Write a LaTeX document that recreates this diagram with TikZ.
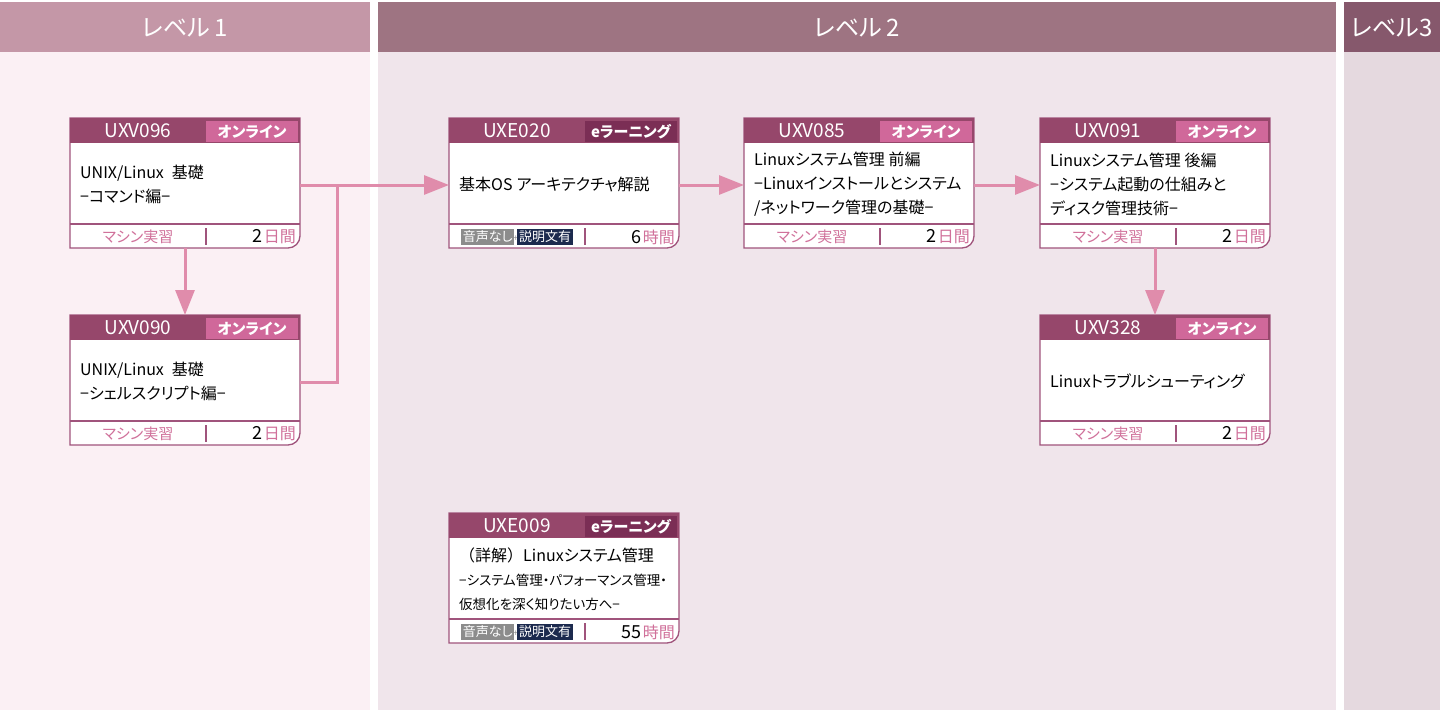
\documentclass[tikz,border=0pt]{standalone}
\usepackage{fontspec}
\setmainfont{Noto Sans CJK JP}[RawFeature=+palt]
\usetikzlibrary{arrows.meta}
\definecolor{lvA}{HTML}{C497A7}
\definecolor{lvAbg}{HTML}{FBF0F4}
\definecolor{lvB}{HTML}{9E7482}
\definecolor{lvBbg}{HTML}{F0E5EB}
\definecolor{lvC}{HTML}{86586C}
\definecolor{lvCbg}{HTML}{E5D9DF}
\definecolor{cardhdr}{HTML}{96476B}
\definecolor{cardborder}{HTML}{A0547C}
\definecolor{tagon}{HTML}{D0689A}
\definecolor{tagel}{HTML}{7B2E55}
\definecolor{pinktxt}{HTML}{D0709A}
\definecolor{arrowc}{HTML}{E08CAB}
\definecolor{badgegray}{HTML}{8C8C8C}
\definecolor{badgenavy}{HTML}{1C2A4E}
\tikzset{
  cardnode/.style={minimum width=230pt,minimum height=130pt,inner sep=0pt,outer sep=0pt},
  codetxt/.style={text=white,font=\fontsize{19}{19}\selectfont,inner sep=0pt},
  tagtxt/.style={text=white,font=\fontsize{15}{15}\selectfont\bfseries,inner sep=0pt},
  bodytxt/.style={text=black,font=\fontsize{16}{24}\selectfont,align=left,inner sep=0pt},
  foottxt/.style={inner sep=0pt},
  lvhdr/.style={text=white,font=\fontsize{24}{24}\selectfont},
  conn/.style={draw=arrowc,line width=3pt},
  arr/.style={conn,-{Triangle[length=25pt,width=19pt]}},
}
\newcommand{\mcLeft}{\textcolor{pinktxt}{\fontsize{15}{15}\selectfont マシン実習}}
\newcommand{\elLeft}{{\setlength{\fboxsep}{1.8pt}\fontsize{13}{13}\selectfont\colorbox{badgegray}{\textcolor{white}{音声なし}}\kern-1pt{\fontsize{9}{9}\selectfont\textcolor{badgegray}{+}}\kern-1pt\colorbox{badgenavy}{\textcolor{white}{説明文有}}}}
\newcommand{\durDays}[1]{{\fontsize{18}{18}\selectfont #1}\,\textcolor{pinktxt}{\fontsize{16}{16}\selectfont 日間}}
\newcommand{\durHours}[1]{{\fontsize{18}{18}\selectfont #1}\,\textcolor{pinktxt}{\fontsize{16}{16}\selectfont 時間}}
% #1 name #2 x #3 y #4 code #5 tag colour #6 tag text #7 body #8 footer left #9 duration
\newcommand{\crsCard}[9]{%
  \node[cardnode,anchor=north west] (#1) at (#2,#3) {};
  \path[fill=white,draw=cardborder,line width=1.3pt] (#2,#3) -- (#2+230,#3) -- (#2+230,#3+118)
     .. controls (#2+230,#3+124.6) and (#2+224.6,#3+130) .. (#2+218,#3+130) -- (#2,#3+130) -- cycle;
  \fill[cardhdr] (#2,#3) rectangle (#2+230,#3+25);
  \fill[#5] (#2+136,#3+3) rectangle (#2+228,#3+24);
  \node[codetxt] at (#2+68,#3+13) {#4};
  \node[tagtxt] at (#2+182,#3+13.5) {#6};
  \node[bodytxt,anchor=west] at (#2+10,#3+66) {#7};
  \draw[cardborder,line width=1.3pt] (#2,#3+106) -- (#2+230,#3+106);
  \draw[cardborder,line width=1.3pt] (#2+136,#3+110) -- (#2+136,#3+127);
  \node[foottxt] at (#2+68,#3+119) {#8};
  \node[foottxt,anchor=east] at (#2+226,#3+119) {#9};
}
\begin{document}
\begin{tikzpicture}[x=1pt,y=-1pt]
\useasboundingbox (0,0) rectangle (1440,710);
\fill[white] (0,0) rectangle (1440,710);
% level columns
\fill[lvAbg] (0,52) rectangle (370,710);
\fill[lvBbg] (378,52) rectangle (1336,710);
\fill[lvCbg] (1344,52) rectangle (1440,710);
\fill[lvA] (0,2) rectangle (370,52);
\fill[lvB] (378,2) rectangle (1336,52);
\fill[lvC] (1344,2) rectangle (1440,52);
\node[lvhdr] (h1) at (185,28) {レベル\,1};
\node[lvhdr] (h2) at (857,28) {レベル\,2};
\node[lvhdr] (h3) at (1392,28) {レベル3};
% cards
\crsCard{uxv096}{70}{118}{UXV096}{tagon}{オンライン}{UNIX/Linux\kern8pt 基礎\\−コマンド編−}{\mcLeft}{\durDays{2}}
\crsCard{uxv090}{70}{315}{UXV090}{tagon}{オンライン}{UNIX/Linux\kern8pt 基礎\\−シェルスクリプト編−}{\mcLeft}{\durDays{2}}
\crsCard{uxe020}{449}{118}{UXE020}{tagel}{eラーニング}{基本OS\kern4pt アーキテクチャ解説}{\elLeft}{\durHours{6}}
\crsCard{uxv085}{744}{118}{UXV085}{tagon}{オンライン}{Linuxシステム管理 前編\\−Linuxインストールとシステム\\/ネットワーク管理の基礎−}{\mcLeft}{\durDays{2}}
\crsCard{uxv091}{1040}{118}{UXV091}{tagon}{オンライン}{Linuxシステム管理 後編\\−システム起動の仕組みと\\ディスク管理技術−}{\mcLeft}{\durDays{2}}
\crsCard{uxv328}{1040}{315}{UXV328}{tagon}{オンライン}{Linuxトラブルシューティング}{\mcLeft}{\durDays{2}}
\crsCard{uxe009}{449}{513}{UXE009}{tagel}{eラーニング}{{\addfontfeatures{RawFeature=-palt}（詳解）}Linuxシステム管理\\{\fontsize{13.5}{13.5}\selectfont −システム管理・パフォーマンス管理・}\\{\fontsize{13.5}{13.5}\selectfont 仮想化を深く知りたい方へ−}}{\elLeft}{\durHours{55}}
% connectors
\coordinate (j) at (337,185);
\draw[conn] ([yshift=-2pt]uxv090.east) -| (j);
\draw[arr] ([yshift=-2pt]uxv096.east) -- (j) -- ([yshift=-2pt]uxe020.west);
\draw[arr] (uxv096.south) -- (uxv090.north);
\draw[arr] ([yshift=-2pt]uxe020.east) -- ([yshift=-2pt]uxv085.west);
\draw[arr] ([yshift=-2pt]uxv085.east) -- ([yshift=-2pt]uxv091.west);
\draw[arr] (uxv091.south) -- (uxv328.north);
\end{tikzpicture}
\end{document}
